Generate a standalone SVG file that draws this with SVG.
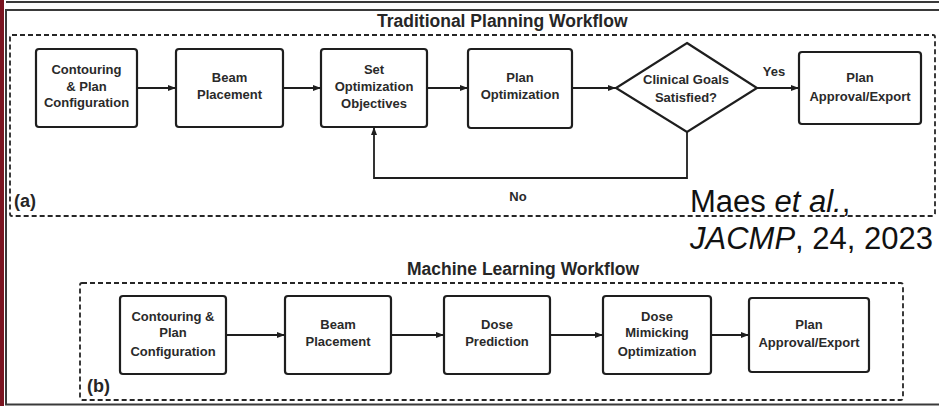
<svg xmlns="http://www.w3.org/2000/svg" width="939" height="406" viewBox="0 0 939 406">
  <style>
    .frame { fill: none; stroke: #3a3a3a; stroke-width: 2; }
    .group { fill: none; stroke: #262626; stroke-width: 1.8; stroke-dasharray: 5 3; }
    .box { fill: #ffffff; stroke: #1e1e1e; stroke-width: 2.2; }
    .lbl { font-family: "Liberation Sans", Arial, sans-serif; font-size: 13px; font-weight: bold; fill: #2a2a2a; text-anchor: middle; }
    .title { font-family: "Liberation Sans", Arial, sans-serif; font-size: 17.5px; font-weight: bold; fill: #262626; }
    .tag { font-family: "Liberation Sans", Arial, sans-serif; font-size: 18px; font-weight: bold; fill: #262626; }
    .cite { font-family: "Liberation Sans", Arial, sans-serif; font-size: 31px; fill: #111111; }
    .edge { fill: none; stroke: #1e1e1e; stroke-width: 1.8; }
  </style>
  <defs>
    <marker id="arrow" viewBox="0 0 8 6" refX="8" refY="3" markerWidth="8" markerHeight="6" markerUnits="userSpaceOnUse" orient="auto">
      <path d="M0,0 L8,3 L0,6 Z" fill="#1e1e1e"/>
    </marker>
  </defs>

  <rect width="939" height="406" fill="#ffffff"/>

  <!-- page frame -->
  <g id="frame">
    <rect x="0" y="0" width="4" height="406" fill="#7a1420"/>
    <line class="frame" x1="6" y1="2" x2="939" y2="2"/>
    <line class="frame" x1="5" y1="10" x2="939" y2="10"/>
    <line class="frame" x1="6" y1="10" x2="6" y2="404"/>
    <line class="frame" x1="5" y1="404.5" x2="939" y2="404.5"/>
  </g>

  <!-- (a) traditional workflow -->
  <g id="panel-a">
    <text class="title" x="377" y="27">Traditional Planning Workflow</text>
    <rect class="group" x="10" y="35" width="925" height="181" rx="2"/>
    <text class="tag" x="14" y="207">(a)</text>
  </g>

  <g id="a-contouring">
    <rect class="box" x="36" y="49" width="101" height="78" rx="3"/>
    <text class="lbl" x="86.5" y="74">Contouring</text>
    <text class="lbl" x="86.5" y="91">&amp; Plan</text>
    <text class="lbl" x="86.5" y="107">Configuration</text>
  </g>
  <g id="a-beam">
    <rect class="box" x="176" y="49" width="107" height="78" rx="3"/>
    <text class="lbl" x="229.5" y="82">Beam</text>
    <text class="lbl" x="229.5" y="99">Placement</text>
  </g>
  <g id="a-objectives">
    <rect class="box" x="321" y="49" width="106" height="78" rx="3"/>
    <text class="lbl" x="374" y="74">Set</text>
    <text class="lbl" x="374" y="91">Optimization</text>
    <text class="lbl" x="374" y="108">Objectives</text>
  </g>
  <g id="a-optimization">
    <rect class="box" x="468" y="49" width="104" height="79" rx="3"/>
    <text class="lbl" x="520" y="82">Plan</text>
    <text class="lbl" x="520" y="99">Optimization</text>
  </g>
  <g id="a-decision">
    <polygon class="box" points="687,43 757,88 687,132 616,88"/>
    <text class="lbl" x="686" y="84">Clinical Goals</text>
    <text class="lbl" x="686" y="102">Satisfied?</text>
  </g>
  <g id="a-approval">
    <rect class="box" x="799" y="52" width="122" height="72" rx="3"/>
    <text class="lbl" x="860" y="82">Plan</text>
    <text class="lbl" x="860" y="101">Approval/Export</text>
  </g>

  <!-- (b) machine learning workflow -->
  <g id="panel-b">
    <text class="title" x="407" y="275">Machine Learning Workflow</text>
    <rect class="group" x="80" y="283" width="823" height="117" rx="2"/>
    <text class="tag" x="87" y="392">(b)</text>
  </g>

  <g id="b-contouring">
    <rect class="box" x="120" y="296" width="106" height="78" rx="3"/>
    <text class="lbl" x="173" y="321">Contouring &amp;</text>
    <text class="lbl" x="173" y="337">Plan</text>
    <text class="lbl" x="173" y="356">Configuration</text>
  </g>
  <g id="b-beam">
    <rect class="box" x="285" y="296" width="106" height="78" rx="3"/>
    <text class="lbl" x="338" y="329">Beam</text>
    <text class="lbl" x="338" y="346">Placement</text>
  </g>
  <g id="b-prediction">
    <rect class="box" x="444" y="296" width="106" height="78" rx="3"/>
    <text class="lbl" x="497" y="329">Dose</text>
    <text class="lbl" x="497" y="346">Prediction</text>
  </g>
  <g id="b-mimicking">
    <rect class="box" x="603" y="296" width="108" height="78" rx="3"/>
    <text class="lbl" x="657" y="321">Dose</text>
    <text class="lbl" x="657" y="337">Mimicking</text>
    <text class="lbl" x="657" y="356">Optimization</text>
  </g>
  <g id="b-approval">
    <rect class="box" x="749" y="298" width="120" height="74" rx="3"/>
    <text class="lbl" x="809" y="329">Plan</text>
    <text class="lbl" x="809" y="347">Approval/Export</text>
  </g>

  <!-- connectors -->
  <g id="connectors">
    <line class="edge" x1="137" y1="88" x2="176" y2="88" marker-end="url(#arrow)"/>
    <line class="edge" x1="283" y1="88" x2="321" y2="88" marker-end="url(#arrow)"/>
    <line class="edge" x1="427" y1="88" x2="468" y2="88" marker-end="url(#arrow)"/>
    <line class="edge" x1="572" y1="88" x2="616" y2="88" marker-end="url(#arrow)"/>
    <line class="edge" x1="757" y1="88" x2="799" y2="88" marker-end="url(#arrow)"/>
    <polyline class="edge" points="687,132 687,178 374,178 374,127" marker-end="url(#arrow)"/>
    <text class="lbl" x="774" y="76">Yes</text>
    <text class="lbl" x="518" y="201">No</text>

    <line class="edge" x1="226" y1="335" x2="285" y2="335" marker-end="url(#arrow)"/>
    <line class="edge" x1="391" y1="335" x2="444" y2="335" marker-end="url(#arrow)"/>
    <line class="edge" x1="550" y1="335" x2="603" y2="335" marker-end="url(#arrow)"/>
    <line class="edge" x1="711" y1="335" x2="749" y2="335" marker-end="url(#arrow)"/>
  </g>

  <!-- citation -->
  <g id="citation">
    <text class="cite" x="690" y="212">Maes <tspan font-style="italic">et al.</tspan>,</text>
    <text class="cite" x="690" y="249"><tspan font-style="italic">JACMP</tspan>, 24, 2023</text>
  </g>
</svg>
